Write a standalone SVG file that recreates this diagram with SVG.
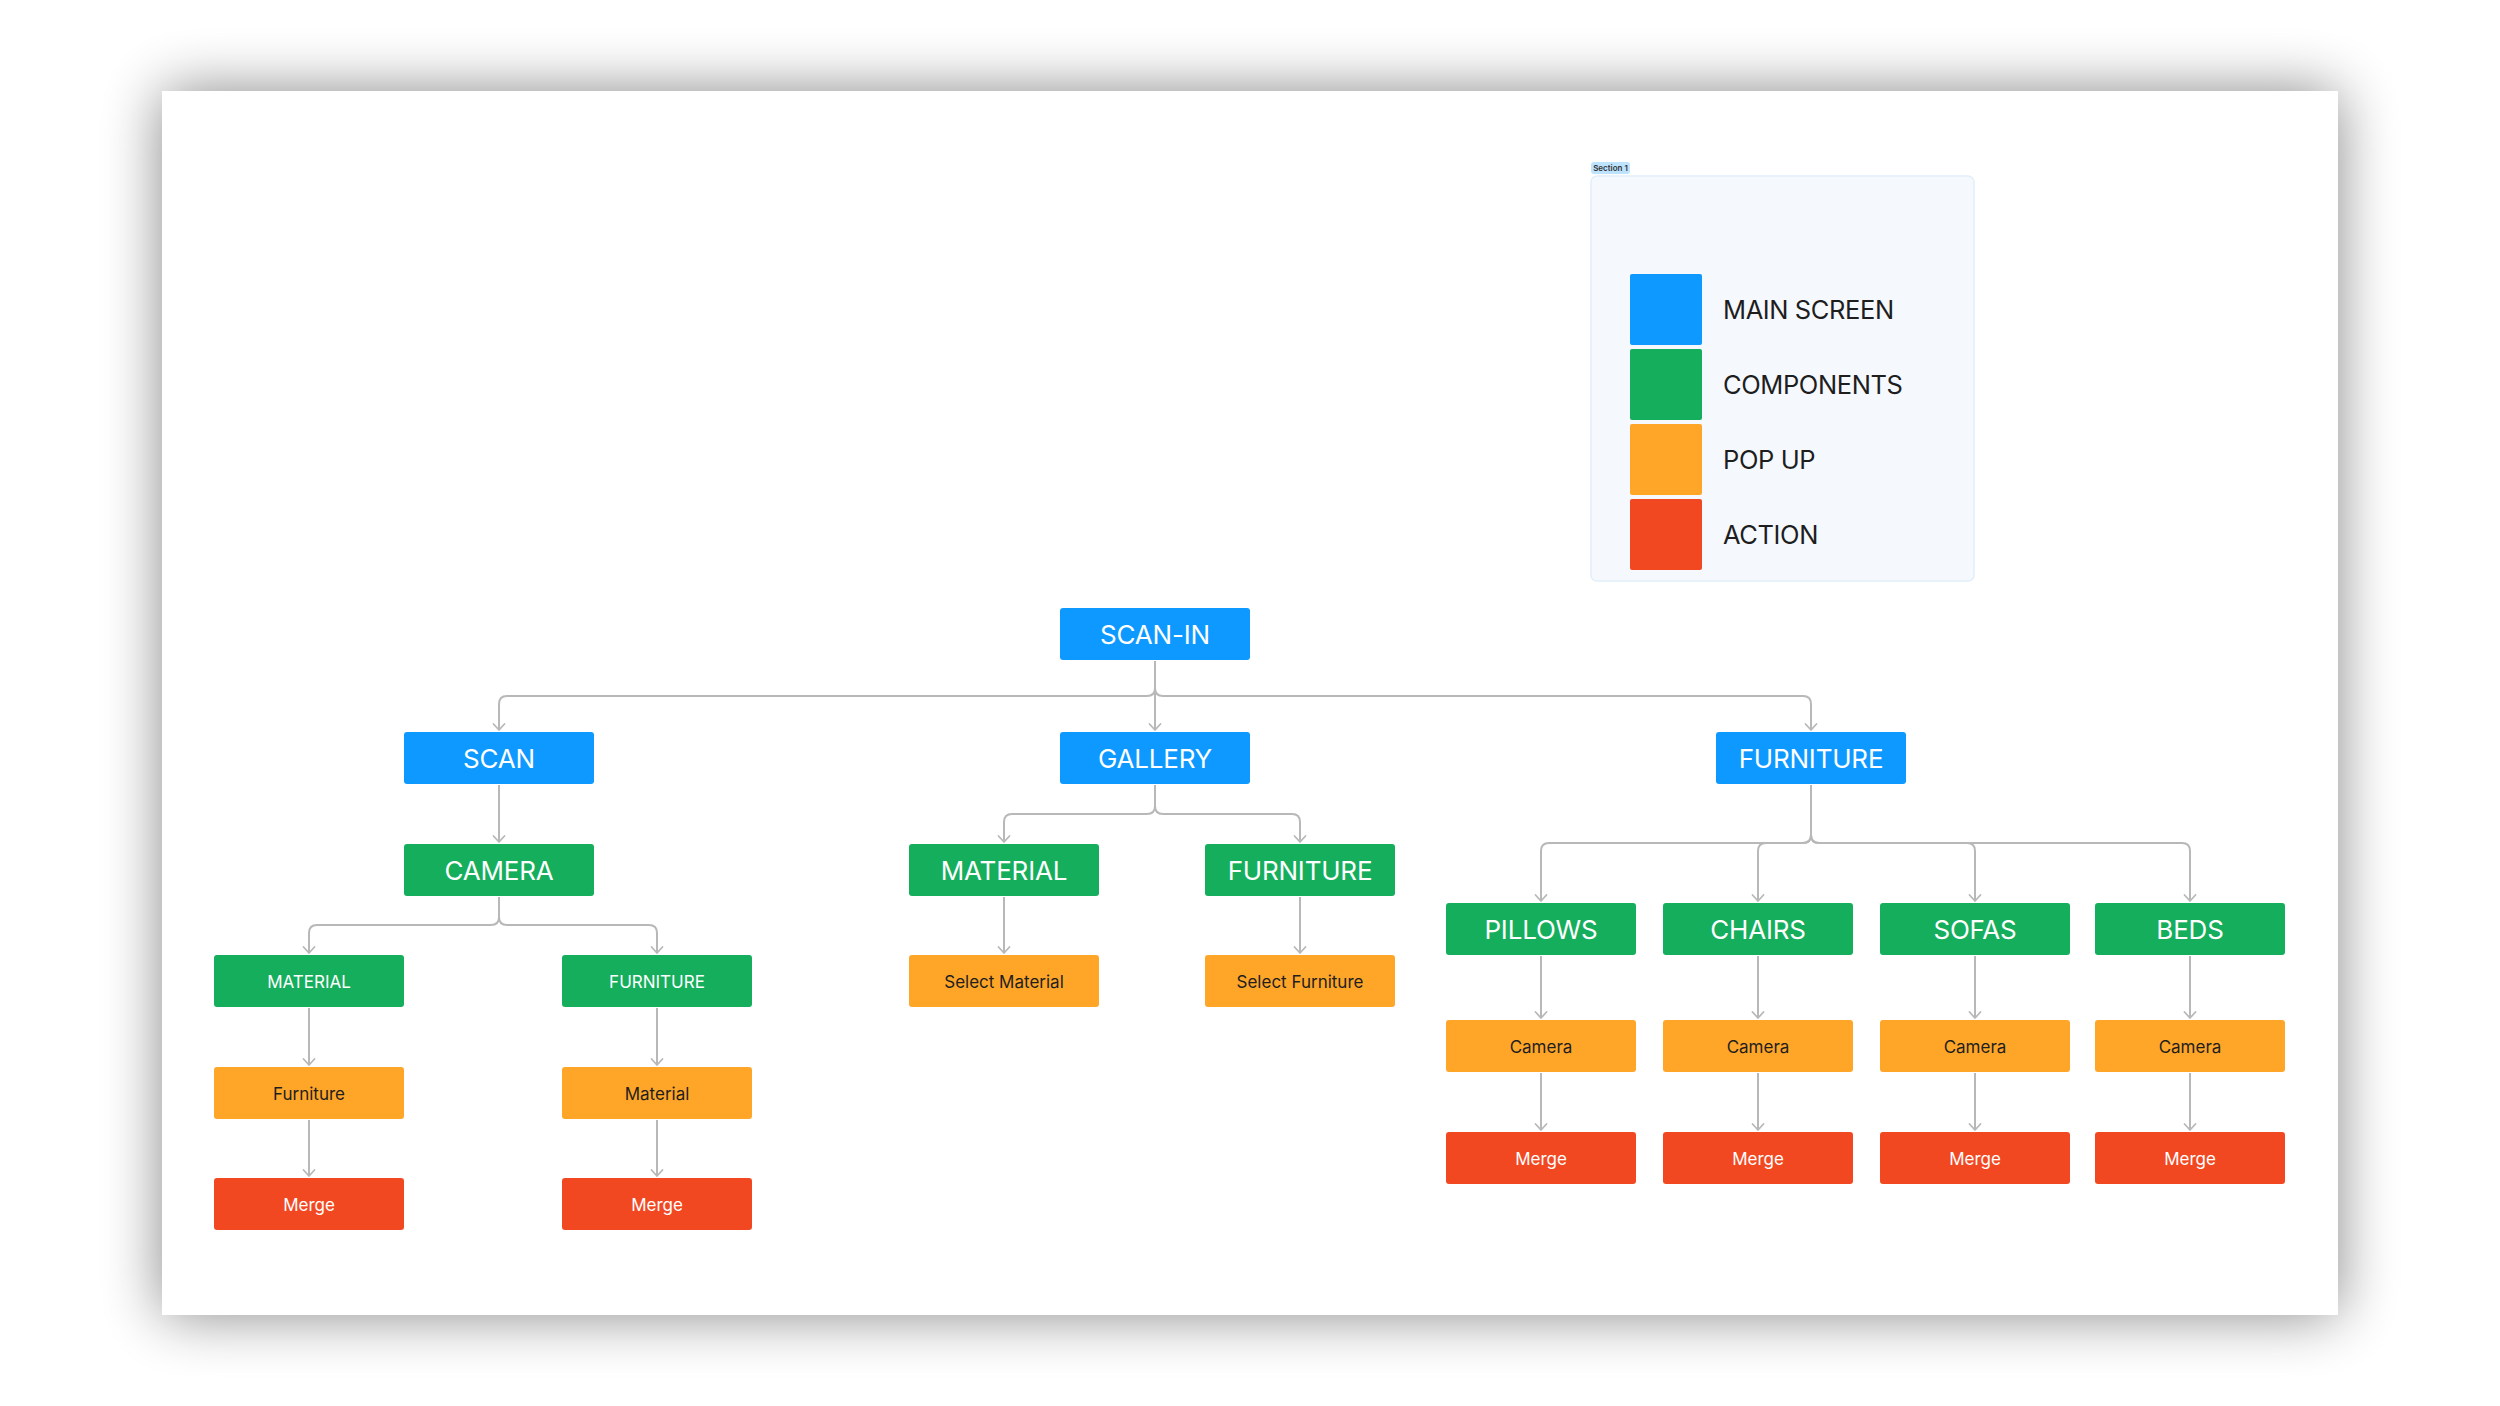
<svg xmlns="http://www.w3.org/2000/svg" width="2500" height="1406" viewBox="0 0 2500 1406">
  <defs>
    <filter id="pageShadow" x="-10%" y="-10%" width="120%" height="120%">
      <feGaussianBlur stdDeviation="30"/>
    </filter>
    <marker id="arrow" markerUnits="userSpaceOnUse" markerWidth="16" markerHeight="16" refX="0" refY="0" viewBox="-8 -8 16 16" orient="auto" overflow="visible">
      <path d="M -6 -5.5 L 0 0 L -6 5.5" fill="none" stroke="#b8b8b8" stroke-width="1.8" stroke-linecap="round" stroke-linejoin="round"/>
    </marker>
    <style>
      .blue { fill: #0d99ff; }
      .green { fill: #14ae5c; }
      .orange { fill: #ffa629; }
      .red { fill: #f24822; }
      .node rect { rx: 3px; ry: 3px; }
      .big { font-family: Inter, "Liberation Sans", sans-serif; font-size: 26px; fill: #ffffff; text-anchor: middle; letter-spacing: -0.2px; }
      .small { font-family: Inter, "Liberation Sans", sans-serif; font-size: 17px; fill: #ffffff; text-anchor: middle; }
      .dark { fill: #1e1e1e; }
      .conn { fill: none; stroke: #b8b8b8; stroke-width: 2; marker-end: url(#arrow); }
      .legend-text { font-family: Inter, "Liberation Sans", sans-serif; font-size: 25.5px; fill: #1e1e1e; letter-spacing: -0.4px; }
    </style>
  </defs>

  <!-- background and page -->
  <rect x="0" y="0" width="2500" height="1406" fill="#ffffff"/>
  <rect x="162" y="91" width="2176" height="1224" fill="#000000" opacity="0.47" filter="url(#pageShadow)"/>
  <rect x="162" y="91" width="2176" height="1224" fill="#ffffff"/>

  <!-- legend section -->
  <g id="legend">
    <rect x="1591" y="162" width="39" height="12" rx="3" fill="#bde3ff"/>
    <text x="1610.5" y="171" font-family="Inter, 'Liberation Sans', sans-serif" font-size="8" font-weight="600" fill="#333333" text-anchor="middle">Section 1</text>
    <rect x="1591" y="176" width="383" height="405" rx="6" fill="#f5f9fe" stroke="#e2eefa" stroke-width="1.5"/>
    <rect x="1630" y="274" width="72" height="71" rx="2" class="blue"/>
    <rect x="1630" y="349" width="72" height="71" rx="2" class="green"/>
    <rect x="1630" y="424" width="72" height="71" rx="2" class="orange"/>
    <rect x="1630" y="499" width="72" height="71" rx="2" class="red"/>
    <text x="1723" y="319" class="legend-text">MAIN SCREEN</text>
    <text x="1723" y="394" class="legend-text">COMPONENTS</text>
    <text x="1723" y="469" class="legend-text">POP UP</text>
    <text x="1723" y="544" class="legend-text">ACTION</text>
  </g>

  <!-- connectors -->
  <g id="connectors">
    <!-- SCAN-IN -> children -->
    <path class="conn" d="M 1155 661 V 688 Q 1155 696 1147 696 H 507 Q 499 696 499 704 V 730"/>
    <path class="conn" d="M 1155 661 V 730"/>
    <path class="conn" d="M 1155 661 V 688 Q 1155 696 1163 696 H 1803 Q 1811 696 1811 704 V 730"/>
    <!-- SCAN -> CAMERA -->
    <path class="conn" d="M 499 785 V 842"/>
    <!-- CAMERA -> MATERIAL / FURNITURE -->
    <path class="conn" d="M 499 897 V 917 Q 499 925 491 925 H 317 Q 309 925 309 933 V 953"/>
    <path class="conn" d="M 499 897 V 917 Q 499 925 507 925 H 649 Q 657 925 657 933 V 953"/>
    <!-- left chains -->
    <path class="conn" d="M 309 1008 V 1065"/>
    <path class="conn" d="M 309 1120 V 1176"/>
    <path class="conn" d="M 657 1008 V 1065"/>
    <path class="conn" d="M 657 1120 V 1176"/>
    <!-- GALLERY -> MATERIAL / FURNITURE -->
    <path class="conn" d="M 1155 785 V 806 Q 1155 814 1147 814 H 1012 Q 1004 814 1004 822 V 842"/>
    <path class="conn" d="M 1155 785 V 806 Q 1155 814 1163 814 H 1292 Q 1300 814 1300 822 V 842"/>
    <path class="conn" d="M 1004 897 V 953"/>
    <path class="conn" d="M 1300 897 V 953"/>
    <!-- FURNITURE -> PILLOWS / CHAIRS / SOFAS / BEDS -->
    <path class="conn" d="M 1811 785 V 835 Q 1811 843 1803 843 H 1549 Q 1541 843 1541 851 V 901"/>
    <path class="conn" d="M 1811 785 V 835 Q 1811 843 1803 843 H 1766 Q 1758 843 1758 851 V 901"/>
    <path class="conn" d="M 1811 785 V 835 Q 1811 843 1819 843 H 1967 Q 1975 843 1975 851 V 901"/>
    <path class="conn" d="M 1811 785 V 835 Q 1811 843 1819 843 H 2182 Q 2190 843 2190 851 V 901"/>
    <path class="conn" d="M 1541 956 V 1018"/>
    <path class="conn" d="M 1541 1073 V 1130"/>
    <path class="conn" d="M 1758 956 V 1018"/>
    <path class="conn" d="M 1758 1073 V 1130"/>
    <path class="conn" d="M 1975 956 V 1018"/>
    <path class="conn" d="M 1975 1073 V 1130"/>
    <path class="conn" d="M 2190 956 V 1018"/>
    <path class="conn" d="M 2190 1073 V 1130"/>
  </g>

  <!-- nodes -->
  <g id="node-scan-in" class="node"><rect x="1060" y="608" width="190" height="52" class="blue"/><text x="1155" y="643.5" class="big">SCAN-IN</text></g>

  <g id="node-scan" class="node"><rect x="404" y="732" width="190" height="52" class="blue"/><text x="499" y="767.5" class="big">SCAN</text></g>
  <g id="node-gallery" class="node"><rect x="1060" y="732" width="190" height="52" class="blue"/><text x="1155" y="767.5" class="big">GALLERY</text></g>
  <g id="node-furniture" class="node"><rect x="1716" y="732" width="190" height="52" class="blue"/><text x="1811" y="767.5" class="big">FURNITURE</text></g>

  <g id="node-camera" class="node"><rect x="404" y="844" width="190" height="52" class="green"/><text x="499" y="879.5" class="big">CAMERA</text></g>
  <g id="node-gallery-material" class="node"><rect x="909" y="844" width="190" height="52" class="green"/><text x="1004" y="879.5" class="big">MATERIAL</text></g>
  <g id="node-gallery-furniture" class="node"><rect x="1205" y="844" width="190" height="52" class="green"/><text x="1300" y="879.5" class="big">FURNITURE</text></g>

  <g id="node-scan-material" class="node"><rect x="214" y="955" width="190" height="52" class="green"/><text x="309" y="987.7" class="small">MATERIAL</text></g>
  <g id="node-scan-furniture" class="node"><rect x="562" y="955" width="190" height="52" class="green"/><text x="657" y="987.7" class="small">FURNITURE</text></g>
  <g id="node-select-material" class="node"><rect x="909" y="955" width="190" height="52" class="orange"/><text x="1004" y="987.7" class="small dark">Select Material</text></g>
  <g id="node-select-furniture" class="node"><rect x="1205" y="955" width="190" height="52" class="orange"/><text x="1300" y="987.7" class="small dark">Select Furniture</text></g>

  <g id="node-popup-furniture" class="node"><rect x="214" y="1067" width="190" height="52" class="orange"/><text x="309" y="1099.7" class="small dark">Furniture</text></g>
  <g id="node-popup-material" class="node"><rect x="562" y="1067" width="190" height="52" class="orange"/><text x="657" y="1099.7" class="small dark">Material</text></g>
  <g id="node-merge-1" class="node"><rect x="214" y="1178" width="190" height="52" class="red"/><text x="309" y="1210.7" class="small">Merge</text></g>
  <g id="node-merge-2" class="node"><rect x="562" y="1178" width="190" height="52" class="red"/><text x="657" y="1210.7" class="small">Merge</text></g>

  <g id="node-pillows" class="node"><rect x="1446" y="903" width="190" height="52" class="green"/><text x="1541" y="938.5" class="big">PILLOWS</text></g>
  <g id="node-chairs" class="node"><rect x="1663" y="903" width="190" height="52" class="green"/><text x="1758" y="938.5" class="big">CHAIRS</text></g>
  <g id="node-sofas" class="node"><rect x="1880" y="903" width="190" height="52" class="green"/><text x="1975" y="938.5" class="big">SOFAS</text></g>
  <g id="node-beds" class="node"><rect x="2095" y="903" width="190" height="52" class="green"/><text x="2190" y="938.5" class="big">BEDS</text></g>

  <g id="node-camera-pillows" class="node"><rect x="1446" y="1020" width="190" height="52" class="orange"/><text x="1541" y="1052.7" class="small dark">Camera</text></g>
  <g id="node-camera-chairs" class="node"><rect x="1663" y="1020" width="190" height="52" class="orange"/><text x="1758" y="1052.7" class="small dark">Camera</text></g>
  <g id="node-camera-sofas" class="node"><rect x="1880" y="1020" width="190" height="52" class="orange"/><text x="1975" y="1052.7" class="small dark">Camera</text></g>
  <g id="node-camera-beds" class="node"><rect x="2095" y="1020" width="190" height="52" class="orange"/><text x="2190" y="1052.7" class="small dark">Camera</text></g>

  <g id="node-merge-pillows" class="node"><rect x="1446" y="1132" width="190" height="52" class="red"/><text x="1541" y="1164.7" class="small">Merge</text></g>
  <g id="node-merge-chairs" class="node"><rect x="1663" y="1132" width="190" height="52" class="red"/><text x="1758" y="1164.7" class="small">Merge</text></g>
  <g id="node-merge-sofas" class="node"><rect x="1880" y="1132" width="190" height="52" class="red"/><text x="1975" y="1164.7" class="small">Merge</text></g>
  <g id="node-merge-beds" class="node"><rect x="2095" y="1132" width="190" height="52" class="red"/><text x="2190" y="1164.7" class="small">Merge</text></g>
</svg>
